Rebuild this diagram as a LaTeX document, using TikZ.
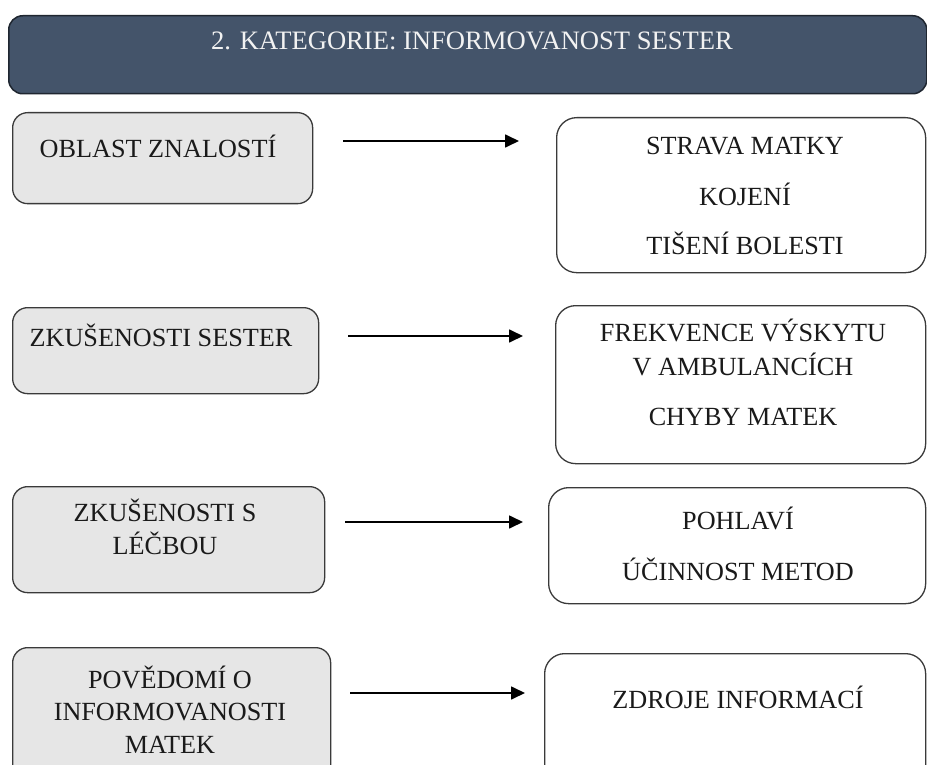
\documentclass[tikz,border=0pt]{standalone}
\usepackage{fontspec}
\setmainfont{Liberation Serif}
\usetikzlibrary{arrows.meta}
\definecolor{hdrfill}{HTML}{44546A}
\definecolor{hdrline}{HTML}{1F2630}
\definecolor{boxline}{HTML}{3A3A3A}
\definecolor{leftfill}{HTML}{E6E6E6}
\definecolor{txt}{HTML}{1A1A1A}
\begin{document}
\begin{tikzpicture}[x=1pt,y=-1pt,
  box/.style={draw=boxline, line width=1.3pt, rounded corners=15pt, inner sep=0pt, anchor=north west},
  leftbox/.style={box, fill=leftfill},
  rightbox/.style={box, fill=white, rounded corners=20pt},
  hdr/.style={draw=hdrline, line width=1.5pt, fill=hdrfill, rounded corners=14pt, inner sep=0pt, anchor=north west},
  lbl/.style={anchor=base, inner sep=0pt, text=txt, font=\fontsize{26.2}{30}\selectfont},
  hlbl/.style={lbl, text=white!95!black, font=\fontsize{26.6}{30}\selectfont},
  arr/.style={draw=black, line width=1.7pt, -{Triangle[length=14pt,width=13pt]}}
]
\useasboundingbox (0,0) rectangle (927,765);

% header
\node[hdr, minimum width=918pt, minimum height=78pt] (hdr) at (8,15) {};
\node[hlbl] (hdrtxt) at (472,50) {2. KATEGORIE: INFORMOVANOST SESTER};

% row 1
\node[leftbox, minimum width=300pt, minimum height=91pt] (l1) at (12,112) {};
\node[lbl] (l1t) at (158,158) {OBLAST ZNALOSTÍ};
\node[rightbox, minimum width=369pt, minimum height=155pt] (r1) at (556,117) {};
\node[lbl] (r1a) at (745,155) {STRAVA MATKY};
\node[lbl] (r1b) at (745,205) {KOJENÍ};
\node[lbl] (r1c) at (745,254) {TIŠENÍ BOLESTI};
\coordinate (a1s) at (343,141);
\coordinate (a1e) at (519,141);
\draw[arr] (a1s) -- (a1e);

% row 2
\node[leftbox, minimum width=306pt, minimum height=86pt] (l2) at (12,307) {};
\node[lbl] (l2t) at (161,346) {ZKUŠENOSTI SESTER};
\node[rightbox, minimum width=370pt, minimum height=158pt] (r2) at (555,305) {};
\node[lbl] (r2a) at (743,341) {FREKVENCE VÝSKYTU};
\node[lbl] (r2b) at (743,375) {V AMBULANCÍCH};
\node[lbl] (r2c) at (743,425) {CHYBY MATEK};
\coordinate (a2s) at (348,336);
\coordinate (a2e) at (523,336);
\draw[arr] (a2s) -- (a2e);

% row 3
\node[leftbox, minimum width=312pt, minimum height=106pt] (l3) at (12,486) {};
\node[lbl] (l3a) at (165,521) {ZKUŠENOSTI S};
\node[lbl] (l3b) at (165,554) {LÉČBOU};
\node[rightbox, minimum width=377pt, minimum height=116pt] (r3) at (548,487) {};
\node[lbl] (r3a) at (738,529) {POHLAVÍ};
\node[lbl] (r3b) at (738,580) {ÚČINNOST METOD};
\coordinate (a3s) at (345,522);
\coordinate (a3e) at (523,522);
\draw[arr] (a3s) -- (a3e);

% row 4
\node[leftbox, minimum width=318pt, minimum height=140pt] (l4) at (12,647) {};
\node[lbl] (l4a) at (170,688) {POVĚDOMÍ O};
\node[lbl] (l4b) at (170,720) {INFORMOVANOSTI};
\node[lbl] (l4c) at (170,753) {MATEK};
\node[rightbox, minimum width=381pt, minimum height=140pt] (r4) at (544,653) {};
\node[lbl] (r4a) at (738,708) {ZDROJE INFORMACÍ};
\coordinate (a4s) at (350,693);
\coordinate (a4e) at (525,693);
\draw[arr] (a4s) -- (a4e);
\end{tikzpicture}
\end{document}
